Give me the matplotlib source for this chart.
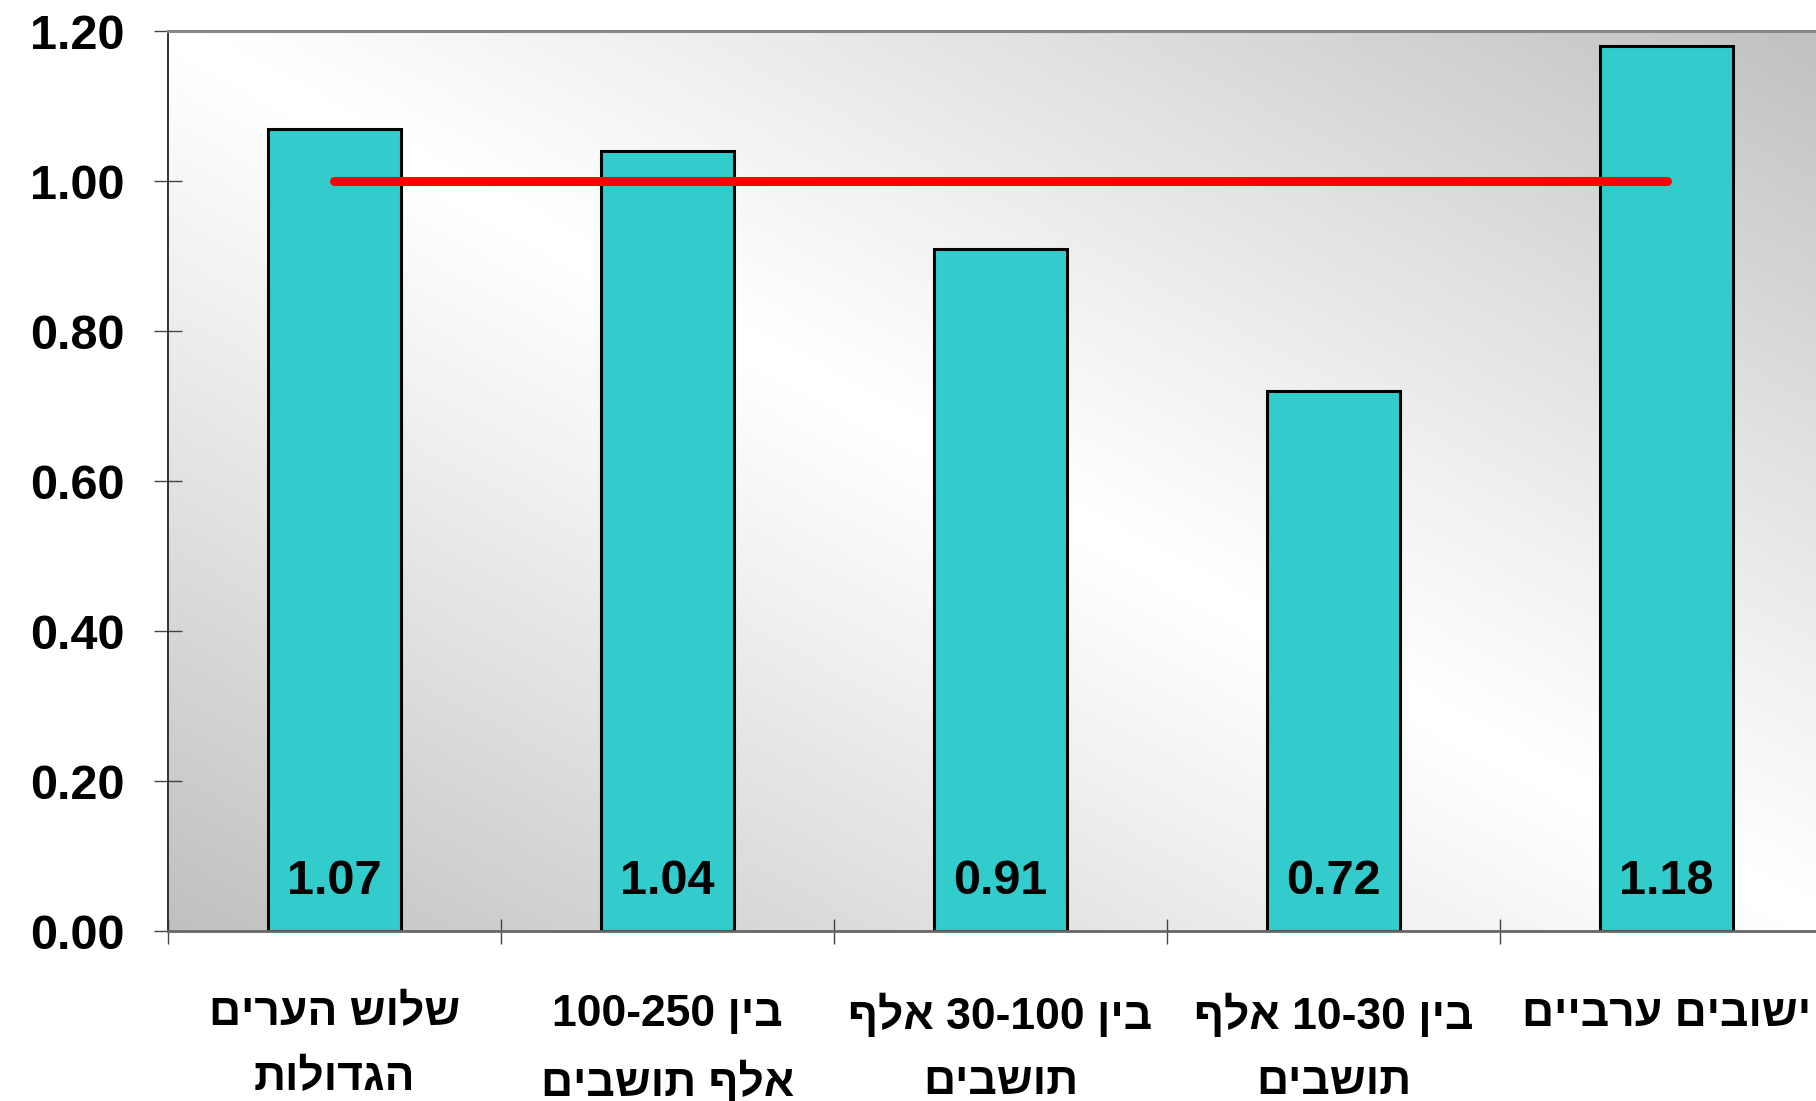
import numpy as np
import matplotlib
matplotlib.use("Agg")
import matplotlib.pyplot as plt

plt.rcParams['font.family'] = ['Liberation Sans Narrow', 'Liberation Sans', 'DejaVu Sans']
plt.rcParams['font.weight'] = 'bold'

# categories (logical Hebrew order), one string per line of the label
categories = [
    ["שלוש הערים", "הגדולות"],
    ["בין 100-250", "אלף תושבים"],
    ["בין 30-100 אלף", "תושבים"],
    ["בין 10-30 אלף", "תושבים"],
    ["ישובים ערביים"],
]
values = [1.07, 1.04, 0.91, 0.72, 1.18]
reference_level = 1.0
y_ticks = [0.0, 0.2, 0.4, 0.6, 0.8, 1.0, 1.2]


def is_hebrew(word):
    return any('\u0590' <= ch <= '\u05ff' for ch in word)


def visual(line):
    # matplotlib lays text out left to right, so flip Hebrew words by hand
    words = line.split(" ")
    out = [w[::-1] if is_hebrew(w) else w for w in reversed(words)]
    return " ".join(out)


fig = plt.figure(figsize=(18.16, 11.01), dpi=100)
ax = fig.add_axes([0.0925, 0.1544, 0.9169, 0.8174])

# diagonal grey-white-grey background
gx, gy = np.meshgrid(np.linspace(0, 1, 400), np.linspace(0, 1, 400))
u = np.abs(gx + gy - 1.0)
shade = 1.0 - 0.25 * u ** 1.1
ax.imshow(shade, cmap='gray', vmin=0, vmax=1, origin='lower',
          extent=[0, 1, 0, 1], transform=ax.transAxes, aspect='auto',
          interpolation='bilinear', zorder=0)

x = np.arange(len(values))
ax.bar(x, values, width=0.4, color='#33CCCC', edgecolor='black',
       linewidth=2.2, zorder=2)

ax.plot([x[0], x[-1]], [reference_level, reference_level], color='#ff0000',
        linewidth=6.5, solid_capstyle='round', zorder=3)

for xi, v in zip(x, values):
    ax.text(xi, 0.05, f"{v:.2f}", ha='center', va='baseline',
            fontsize=35, fontweight='bold', zorder=4)

ax.set_xlim(-0.5, len(values) - 0.5)
ax.set_ylim(0, 1.2)

ax.set_yticks(y_ticks)
ax.set_yticklabels([f"{t:.2f}" for t in y_ticks], fontsize=35, fontweight='bold')
ax.tick_params(axis='y', direction='inout', length=20, width=1.0,
               color='#444444', pad=21)

# boundaries get tick marks, centres get the labels
ax.set_xticks(np.arange(len(values)) - 0.5)
ax.set_xticklabels([])
ax.set_xticks(x, minor=True)
labels = ax.set_xticklabels(
    ["\n".join(visual(l) for l in lines) for lines in categories],
    minor=True, fontsize=32, fontweight='bold')
for lab in labels:
    lab.set_linespacing(1.75)
ax.tick_params(axis='x', which='major', direction='inout', length=18,
               width=1.0, color='#444444')
ax.tick_params(axis='x', which='minor', length=0, pad=45)

ax.spines['top'].set_color('#888888')
ax.spines['top'].set_linewidth(2.2)
ax.spines['left'].set_color('#333333')
ax.spines['left'].set_linewidth(1.4)
ax.spines['bottom'].set_color('#666666')
ax.spines['bottom'].set_linewidth(2.0)

fig.savefig("out.png", dpi=100)
